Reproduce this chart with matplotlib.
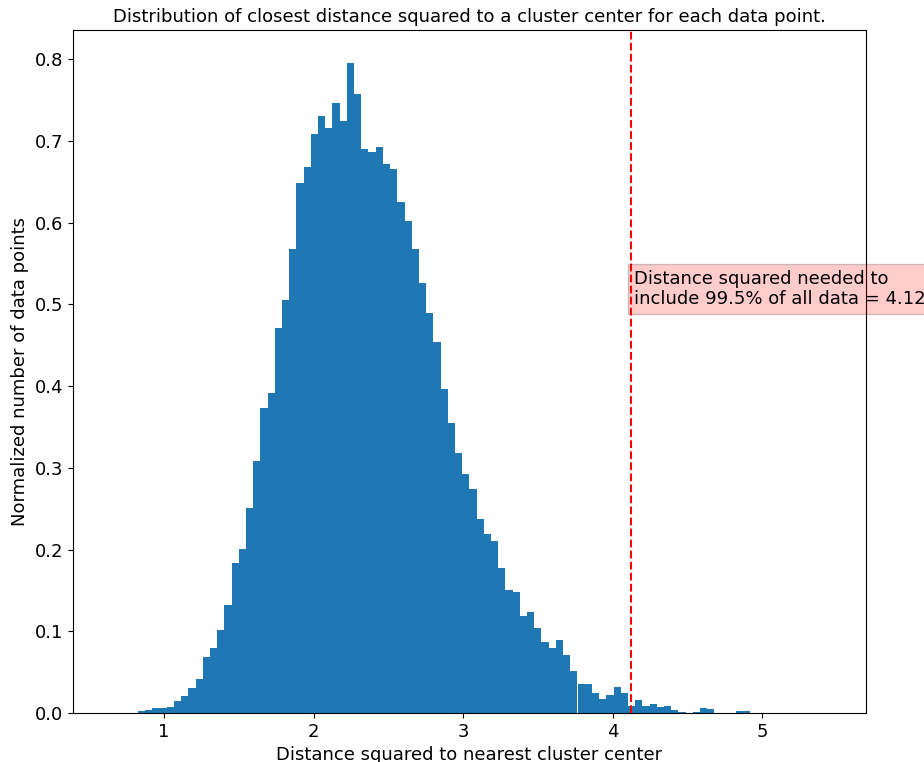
import numpy as np
import matplotlib
matplotlib.use("Agg")
import matplotlib.pyplot as plt

# histogram of squared distance to nearest cluster center (density normalised)
bin_lo, bin_hi, n_bins = 0.633, 5.45, 100
heights = [
    0.0, 0.0, 0.0, 0.0, 0.002, 0.004, 0.006, 0.006, 0.007, 0.015,
    0.021, 0.031, 0.041, 0.069, 0.080, 0.102, 0.132, 0.184, 0.201, 0.251,
    0.309, 0.373, 0.392, 0.471, 0.505, 0.568, 0.649, 0.668, 0.709, 0.731,
    0.716, 0.747, 0.724, 0.796, 0.758, 0.690, 0.686, 0.693, 0.672, 0.666,
    0.625, 0.602, 0.568, 0.526, 0.489, 0.454, 0.397, 0.355, 0.318, 0.292,
    0.274, 0.237, 0.219, 0.211, 0.177, 0.150, 0.148, 0.119, 0.124, 0.104,
    0.087, 0.080, 0.089, 0.071, 0.052, 0.036, 0.036, 0.025, 0.017, 0.022,
    0.032, 0.024, 0.008, 0.016, 0.009, 0.011, 0.007, 0.008, 0.0035, 0.0012,
    0.0, 0.0015, 0.006, 0.0045, 0.0, 0.0, 0.0, 0.002, 0.002, 0.0,
    0.0, 0.0, 0.0, 0.0, 0.0, 0.0, 0.0, 0.0, 0.0, 0.0,
]
cutoff = 4.12
pct = 99.5

edges = np.linspace(bin_lo, bin_hi, n_bins + 1)
centers = (edges[:-1] + edges[1:]) / 2

fig = plt.figure(figsize=(9.24, 7.62), dpi=100)
ax = fig.add_axes([0.079, 0.0643, 0.858, 0.8963])

ax.hist(centers, bins=edges, weights=heights, color="#1f77b4")
ax.axvline(cutoff, color="r", linestyle="--", linewidth=1.5)
ax.text(cutoff + 0.02, 0.5,
        "Distance squared needed to\ninclude {}% of all data = {:.2f}".format(pct, cutoff),
        fontsize=13, bbox=dict(facecolor="red", alpha=0.2))

ax.set_title("Distribution of closest distance squared to a cluster center for each data point.",
             fontsize=13)
ax.set_xlabel("Distance squared to nearest cluster center", fontsize=13)
ax.set_ylabel("Normalized number of data points", fontsize=13)
ax.tick_params(labelsize=13)

fig.savefig("out.png", dpi=100)
